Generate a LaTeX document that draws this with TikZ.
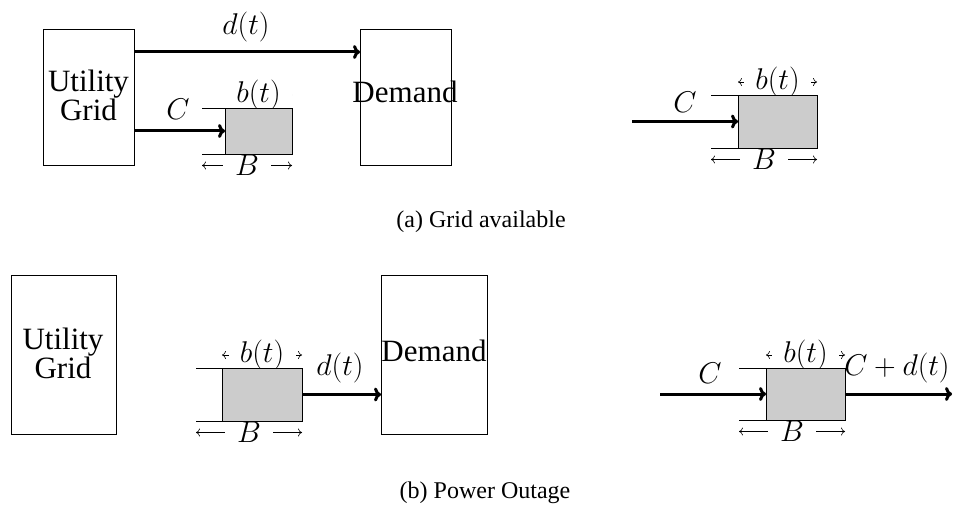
\RequirePackage{fix-cm}
\documentclass[tikz,border=0pt]{standalone}
\usepackage[no-math]{fontspec}
\setmainfont{Liberation Serif}
\usetikzlibrary{arrows.meta,backgrounds}
\begin{document}
\begin{tikzpicture}[x=1pt,y=-1pt,
  box/.style={draw, line width=0.8pt, inner sep=0pt, outer sep=0pt},
  batt/.style={draw, fill=black!20, line width=0.9pt, inner sep=0pt, outer sep=0pt},
  flow/.style={line width=3pt, -{Computer Modern Rightarrow[length=7pt,width=14pt]}},
  ext/.style={line width=0.8pt},
  dim/.style={line width=0.6pt, {Computer Modern Rightarrow[length=4pt,width=8pt]}-{Computer Modern Rightarrow[length=4pt,width=8pt]}},
  txt/.style={font=\fontsize{31}{25}\selectfont, align=center, inner sep=0pt},
  mth/.style={font=\fontsize{30}{30}\selectfont, inner sep=0pt},
  blab/.style={mth, fill=white, minimum width=67pt},
  Blab/.style={mth, fill=white, minimum width=48pt},
  captext/.style={font=\fontsize{24}{24}\selectfont, inner sep=0pt}
]
\path[use as bounding box] (0,0) rectangle (955,508);

% ---------- (a) left ----------
\node[box, minimum width=91pt, minimum height=136pt] (gA) at (88.5,97) {};
\node[txt] (gAt) at (88.5,95) {Utility\\Grid};
\node[box, minimum width=91pt, minimum height=136pt] (dA) at (405.5,97) {};
\node[txt] (dAt) at (405,92) {Demand};
\node[batt, minimum width=67pt, minimum height=46pt] (bA) at (258.5,131) {};
\draw[ext] (bA.north west) -- ++(-23,0) coordinate (eAt);
\draw[ext] (bA.south west) -- ++(-23,0) coordinate (eAb);
\draw[flow] (gA.east |- 0,52) -- (dA.west |- 0,52);
\node[mth] (dAl) at (246,27) {$d(t)$};
\draw[flow] (gA.east |- bA.west) -- (bA.west);
\node[mth] (cAl) at (178,109) {$C$};
\begin{pgfonlayer}{background}
\draw[dim] ([yshift=13pt]bA.north west) -- ([yshift=13pt]bA.north east) node[midway, blab] {$b(t)$};
\draw[dim] ([yshift=-11.5pt]eAb) -- ([yshift=-11.5pt]bA.south east) node[midway, Blab] {$B$};
\end{pgfonlayer}

% ---------- (a) right ----------
\node[batt, minimum width=79pt, minimum height=53pt] (bR) at (777.5,121.5) {};
\draw[ext] (bR.north west) -- ++(-27,0) coordinate (eRt);
\draw[ext] (bR.south west) -- ++(-27,0) coordinate (eRb);
\coordinate (inR) at (632,121.5);
\draw[flow] (inR) -- (bR.west);
\node[mth] (cRl) at (685,102) {$C$};
\begin{pgfonlayer}{background}
\draw[dim] ([yshift=13pt]bR.north west) -- ([yshift=13pt]bR.north east) node[midway, blab] {$b(t)$};
\draw[dim] ([yshift=-11.5pt]eRb) -- ([yshift=-11.5pt]bR.south east) node[midway, Blab] {$B$};
\end{pgfonlayer}

\node[captext] (capa) at (481,222) {(a) Grid available};

% ---------- (b) left ----------
\node[box, minimum width=105pt, minimum height=159pt] (gB) at (63.5,354.5) {};
\node[txt] (gBt) at (63,353) {Utility\\Grid};
\node[box, minimum width=106pt, minimum height=159pt] (dB) at (434,354.5) {};
\node[txt] (dBt) at (434,351) {Demand};
\node[batt, minimum width=80pt, minimum height=53pt] (bB) at (262,394.5) {};
\draw[ext] (bB.north west) -- ++(-26,0) coordinate (eBt);
\draw[ext] (bB.south west) -- ++(-26,0) coordinate (eBb);
\draw[flow] (bB.east) -- (dB.west |- bB.east);
\node[mth] (dBl) at (340,368) {$d(t)$};
\begin{pgfonlayer}{background}
\draw[dim] ([yshift=13pt]bB.north west) -- ([yshift=13pt]bB.north east) node[midway, blab] {$b(t)$};
\draw[dim] ([yshift=-11.5pt]eBb) -- ([yshift=-11.5pt]bB.south east) node[midway, Blab] {$B$};
\end{pgfonlayer}

% ---------- (b) right ----------
\node[batt, minimum width=79pt, minimum height=52pt] (bS) at (805.5,394) {};
\draw[ext] (bS.north west) -- ++(-27,0) coordinate (eSt);
\draw[ext] (bS.south west) -- ++(-27,0) coordinate (eSb);
\coordinate (inS) at (660,394);
\coordinate (outS) at (952,394);
\draw[flow] (inS) -- (bS.west);
\draw[flow] (bS.east) -- (outS);
\node[mth] (cSl) at (710,373) {$C$};
\node[mth] (cdS) at (897,368) {$C+d(t)$};
\begin{pgfonlayer}{background}
\draw[dim] ([yshift=13pt]bS.north west) -- ([yshift=13pt]bS.north east) node[midway, blab] {$b(t)$};
\draw[dim] ([yshift=-11.5pt]eSb) -- ([yshift=-11.5pt]bS.south east) node[midway, Blab] {$B$};
\end{pgfonlayer}

\node[captext] (capb) at (485,493) {(b) Power Outage};
\end{tikzpicture}
\end{document}
